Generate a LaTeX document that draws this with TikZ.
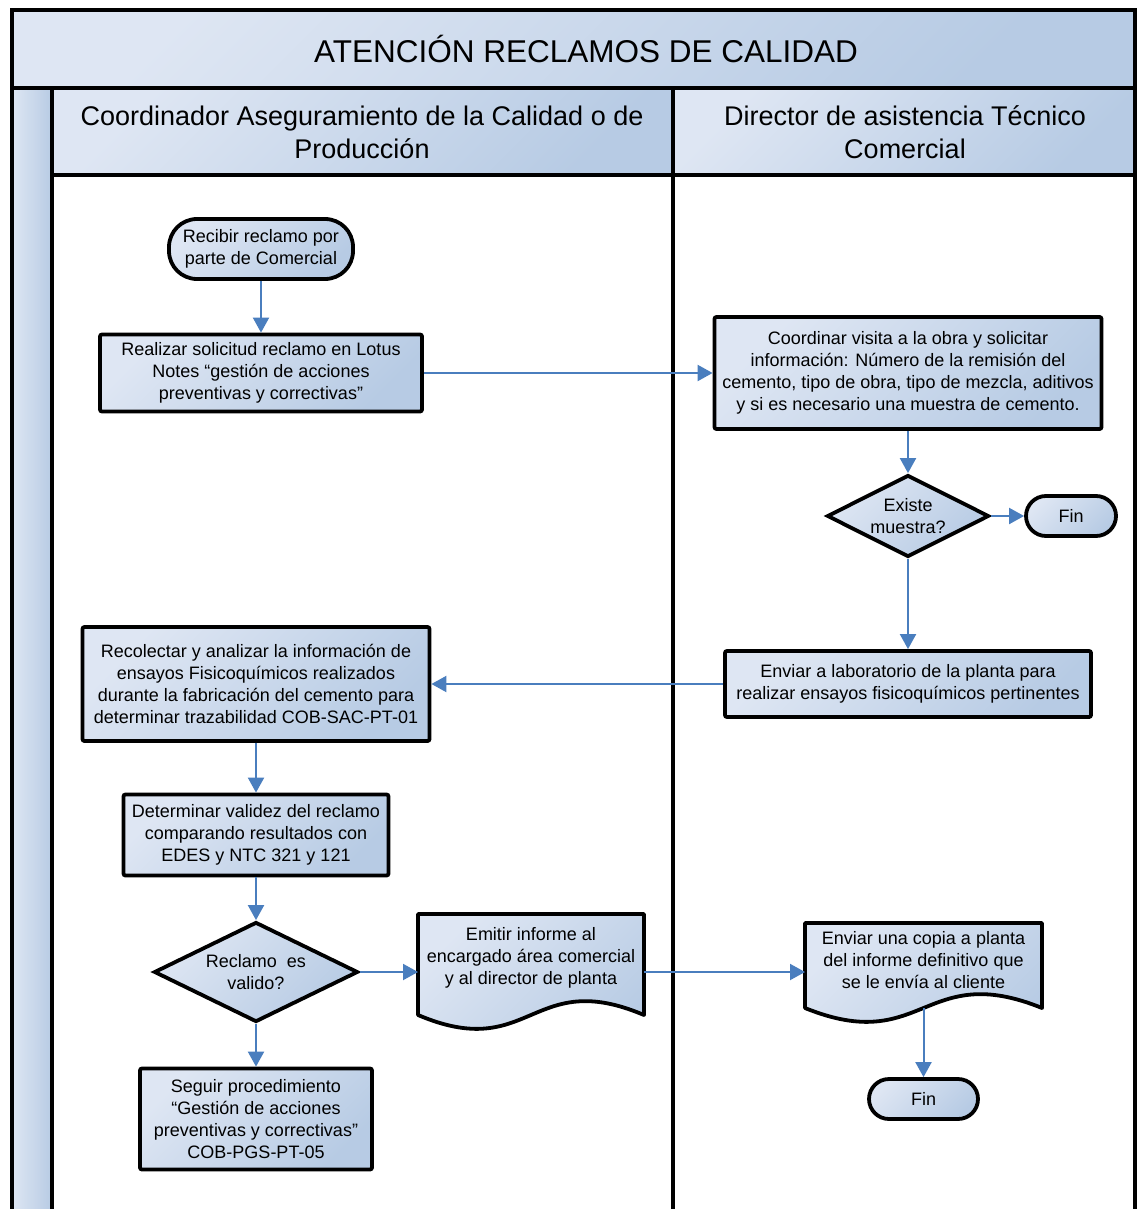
\documentclass[tikz,border=0pt]{standalone}
\usepackage{fontspec}
\setmainfont{Liberation Sans}
\usetikzlibrary{shapes.geometric,arrows.meta,calc}
\pgfdeclarelayer{background}
\pgfsetlayers{background,main}
\definecolor{cA}{RGB}{222,230,243}
\definecolor{cB}{RGB}{183,203,228}
\definecolor{arrowblue}{RGB}{74,126,190}
\begin{document}
\begin{tikzpicture}[x=1pt,y=-1pt,
  shadeband/.style={top color=cA, bottom color=cB, shading angle=45},
  frameline/.style={draw=black, line width=4.5pt},
  base/.style={draw=black, line width=3.8pt, top color=cA, bottom color=cB, shading angle=45,
    align=center, font=\fontsize{18pt}{22pt}\selectfont, inner sep=0pt},
  proc/.style={base, rectangle, rounded corners=2pt},
  term/.style={base, rectangle, rounded corners=20pt},
  decision/.style={base, diamond, aspect=2},
  doctext/.style={align=center, font=\fontsize{18pt}{22pt}\selectfont, inner sep=0pt, outer sep=0pt},
  docshape/.style={draw=black, line width=3.8pt, line join=round, top color=cA, bottom color=cB, shading angle=45},
  arr/.style={draw=arrowblue, line width=2pt, -{Triangle[length=15pt,width=16pt]}},
  lanehead/.style={align=center, font=\fontsize{27pt}{33pt}\selectfont, inner sep=0pt}
]
\useasboundingbox (0,0) rectangle (1138,1209);

% ---------- swimlane frame ----------
\begin{pgfonlayer}{background}
  \fill[white] (0,0) rectangle (1138,1209);
  \path[shadeband] (12,10) rectangle (1135,88);
  \path[shadeband] (52,88) rectangle (673,175);
  \path[shadeband] (673,88) rectangle (1135,175);
  \path[left color=cA, right color=cB] (12,88) rectangle (52,1212);
  \draw[frameline] (12,1212) -- (12,10) -- (1135,10) -- (1135,1212);
  \draw[frameline] (12,88) -- (1135,88);
  \draw[frameline] (52,88) -- (52,1212);
  \draw[frameline] (673,88) -- (673,1212);
  \draw[draw=black, line width=3.5pt] (52,175) -- (1135,175);
\end{pgfonlayer}

\node[font=\fontsize{31.5pt}{38pt}\selectfont, inner sep=0pt] (title) at (586,49) {ATENCIÓN RECLAMOS DE CALIDAD};
\node[lanehead] (lane1) at (362,132) {Coordinador Aseguramiento de la Calidad o de\\Producción};
\node[lanehead] (lane2) at (905,132) {Director de asistencia Técnico\\Comercial};

% ---------- nodes ----------
\node[term, rounded corners=28pt, minimum width=184pt, minimum height=60pt] (start) at (261,249)
  {Recibir reclamo por\\parte de Comercial};
\node[proc, minimum width=322pt, minimum height=77pt] (req) at (261,373)
  {Realizar solicitud reclamo en Lotus\\Notes “gestión de acciones\\preventivas y correctivas”};
\node[proc, minimum width=387pt, minimum height=112pt] (coord) at (908,373)
  {Coordinar visita a la obra y solicitar\\información: Número de la remisión del\\cemento, tipo de obra, tipo de mezcla, aditivos\\y si es necesario una muestra de cemento.};
\node[decision, minimum width=162pt, minimum height=82pt] (dia1) at (908,516)
  {Existe\\muestra?};
\node[term, minimum width=90pt, minimum height=40pt] (fin1) at (1071,516) {Fin};
\node[proc, minimum width=366pt, minimum height=66pt] (lab) at (908,684)
  {Enviar a laboratorio de la planta para\\realizar ensayos fisicoquímicos pertinentes};
\node[proc, minimum width=347pt, minimum height=114pt] (recol) at (256,684)
  {Recolectar y analizar la información de\\ensayos Fisicoquímicos realizados\\durante la fabricación del cemento para\\determinar trazabilidad COB-SAC-PT-01};
\node[proc, minimum width=265pt, minimum height=81pt] (valid) at (256,835)
  {Determinar validez del reclamo\\comparando resultados con\\EDES y NTC 321 y 121};
\node[decision, minimum width=204pt, minimum height=100pt] (dia2) at (256,972)
  {Reclamo~~es\\valido?};
\node[doctext, minimum width=226pt, minimum height=88pt] (doc1) at (531,958)
  {Emitir informe al\\encargado área comercial\\y al director de planta};
\node[doctext, minimum width=237pt, minimum height=74pt] (doc2) at (923.5,960)
  {Enviar una copia a planta\\del informe definitivo que\\se le envía al cliente};
\node[proc, minimum width=232pt, minimum height=101pt] (seguir) at (256,1119)
  {Seguir procedimiento\\“Gestión de acciones\\preventivas y correctivas”\\COB-PGS-PT-05};
\node[term, minimum width=109pt, minimum height=40pt] (fin2) at (923.5,1099) {Fin};

% ---------- document shapes ----------
\begin{pgfonlayer}{background}
  \path[docshape] (doc1.north west) -- (doc1.north east) -- ($(doc1.north east)+(0,101)$)
    .. controls ($(doc1.north)+(0,53)$) and ($(doc1.north)+(0,149)$) .. ($(doc1.north west)+(0,101)$) -- cycle;
  \path[docshape] (doc2.north west) -- (doc2.north east) -- ($(doc2.north east)+(0,85)$)
    .. controls ($(doc2.north)+(0,37)$) and ($(doc2.north)+(0,133)$) .. ($(doc2.north west)+(0,85)$) -- cycle;
\end{pgfonlayer}
\coordinate (doc2b) at ($(doc2.north)+(0,85)$);

% ---------- connectors ----------
\draw[arr] (start.south) -- (req.north);
\draw[arr] (req.east) -- (req.east -| coord.west);
\draw[arr] (coord.south) -- (dia1.north);
\draw[arr] (dia1.east) -- (fin1.west);
\draw[arr] (dia1.south) -- (lab.north);
\draw[arr] (lab.west) -- (lab.west -| recol.east);
\draw[arr] (recol.south) -- (valid.north);
\draw[arr] (valid.south) -- (dia2.north);
\draw[arr] (dia2.east) -- (dia2.east -| doc1.west);
\draw[arr] (dia2.east -| doc1.east) -- (dia2.east -| doc2.west);
\draw[arr] (dia2.south) -- (seguir.north);
\draw[arr] (doc2b) -- (fin2.north);
\end{tikzpicture}
\end{document}
